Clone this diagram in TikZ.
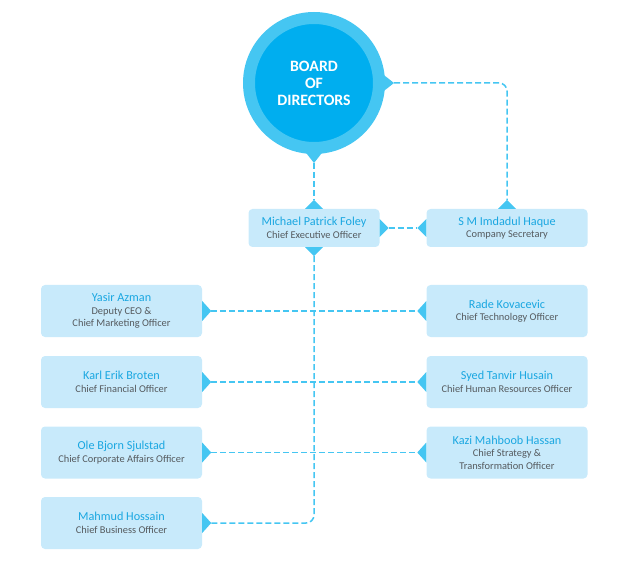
\documentclass[tikz,border=0pt]{standalone}
\usepackage{fontspec}
\setmainfont{Carlito}
\usepackage{xcolor}
\usepackage{tikz}

\definecolor{ringblue}{HTML}{45C6F2}
\definecolor{coreblue}{HTML}{00AEEF}
\definecolor{cardblue}{HTML}{C8EAFB}
\definecolor{nameblue}{HTML}{1AA7E1}
\definecolor{rolegray}{HTML}{555A5E}
\newcommand{\pname}[1]{{\fontsize{12.2}{14}\selectfont\color{nameblue}#1}}

\begin{document}
\begin{tikzpicture}[x=1pt, y=-1pt, every text node part/.style={align=center}]
			\tikzstyle{card} = [rectangle, fill = cardblue, rounded corners = 4pt, inner sep = 0pt,
				minimum width = 161pt, minimum height = 52pt, text = rolegray,
				font = \fontsize{10.4}{12.5}\selectfont]
			\tikzstyle{slim} = [minimum height = 38pt]
			\tikzstyle{tip} = [fill = ringblue]
			\tikzstyle{link} = [draw = ringblue, line width = 1.5pt, dash pattern = on 6pt off 3pt, rounded corners = 8pt]
			\useasboundingbox (0, 0) rectangle (635, 572);

			\path (314, 83) node[circle, draw = ringblue, line width = 12pt, fill = coreblue, minimum size = 130pt,
				text = white, font = \bfseries\fontsize{15.8}{17}\selectfont] (board) {BOARD\\OF\\DIRECTORS};
			\path (314, 228) node[card, slim, minimum width = 131pt] (ceo) {\pname{Michael Patrick Foley}\\Chief Executive Officer};
			\path (507, 228) node[card, slim] (sec) {\pname{S M Imdadul Haque}\\Company Secretary};
			\path (121.5, 311) node[card] (yasir) {\pname{Yasir Azman}\\Deputy CEO \&\\Chief Marketing Officer};
			\path (121.5, 382) node[card] (karl) {\pname{Karl Erik Broten}\\Chief Financial Officer};
			\path (121.5, 452.5) node[card] (ole) {\pname{Ole Bjorn Sjulstad}\\Chief Corporate Affairs Officer};
			\path (121.5, 523) node[card] (mahmud) {\pname{Mahmud Hossain}\\Chief Business Officer};
			\path (507, 311) node[card] (rade) {\pname{Rade Kovacevic}\\Chief Technology Officer};
			\path (507, 382) node[card] (syed) {\pname{Syed Tanvir Husain}\\Chief Human Resources Officer};
			\path (507, 452.5) node[card] (kazi) {\pname{Kazi Mahboob Hassan}\\Chief Strategy \&\\Transformation Officer};

			% pointer tips
			\fill[tip] (board.south) +(-11, -5) -- +(11, -5) -- +(0, 9) -- cycle;
			\fill[tip] (board.east) +(-5, -11) -- +(-5, 11) -- +(9, 0) -- cycle;
			\path (board.south) ++(0, 9) coordinate (boardS);
			\path (board.east) ++(9, 0) coordinate (boardE);

			\fill[tip] (ceo.north) +(-9, 0) -- +(9, 0) -- +(0, -9) -- cycle;
			\fill[tip] (ceo.south) +(-9, 0) -- +(9, 0) -- +(0, 9) -- cycle;
			\fill[tip] (ceo.east) +(0, -9) -- +(0, 9) -- +(9, 0) -- cycle;
			\fill[tip] (sec.north) +(-9, 0) -- +(9, 0) -- +(0, -9) -- cycle;
			\fill[tip] (sec.west) +(0, -9) -- +(0, 9) -- +(-9, 0) -- cycle;
			\path (ceo.north) ++(0, -9) coordinate (ceoN);
			\path (ceo.south) ++(0, 9) coordinate (ceoS);
			\path (ceo.east) ++(9, 0) coordinate (ceoE);
			\path (sec.north) ++(0, -9) coordinate (secN);
			\path (sec.west) ++(-9, 0) coordinate (secW);

			\foreach \n in {yasir, karl, ole, mahmud} {
				\fill[tip] (\n.east) +(0, -10) -- +(0, 10) -- +(9, 0) -- cycle;
				\path (\n.east) ++(9, 0) coordinate (\n E);
			}
			\foreach \n in {rade, syed, kazi} {
				\fill[tip] (\n.west) +(0, -10) -- +(0, 10) -- +(-9, 0) -- cycle;
				\path (\n.west) ++(-9, 0) coordinate (\n W);
			}

			% dashed links
			\path[link] (boardE) -| (secN);
			\path[link] (boardS) -- (ceoN);
			\path[link] (ceoE) -- (secW);
			\path[link] (ceoS) |- (mahmudE);
			\path[link] (yasirE) -- (radeW);
			\path[link] (karlE) -- (syedW);
			\path[link] (oleE) -- (kaziW);
		\end{tikzpicture}
\end{document}
